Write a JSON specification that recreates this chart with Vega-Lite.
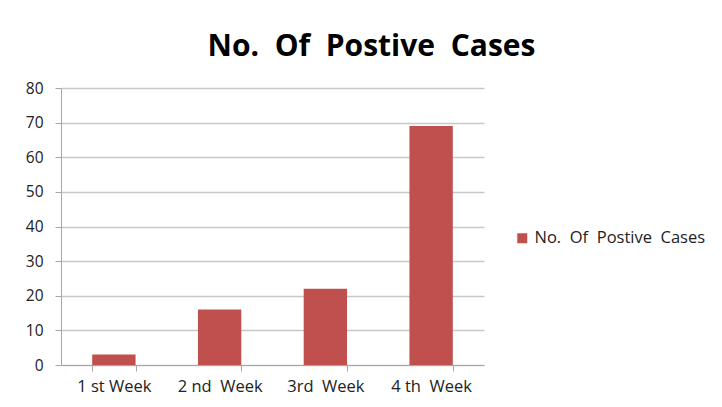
{
  "$schema": "https://vega.github.io/schema/vega-lite/v6.json",
  "autosize": {"type": "none"},
  "width": 423,
  "height": 277,
  "padding": {"left": 61, "top": 88, "right": 238, "bottom": 42},
  "background": "white",
  "title": {
    "text": "No.\u00a0\u00a0Of\u00a0\u00a0Postive\u00a0\u00a0Cases",
    "font": "Open Sans",
    "fontSize": 30,
    "fontWeight": "bold",
    "color": "#000000",
    "anchor": "middle",
    "dx": 99,
    "offset": 19
  },
  "data": {
    "values": [
      {"week": "1 st Week", "cases": 3, "series": "No.\u00a0\u00a0Of\u00a0\u00a0Postive\u00a0\u00a0Cases"},
      {"week": "2 nd\u00a0\u00a0Week", "cases": 16, "series": "No.\u00a0\u00a0Of\u00a0\u00a0Postive\u00a0\u00a0Cases"},
      {"week": "3rd\u00a0\u00a0Week", "cases": 22, "series": "No.\u00a0\u00a0Of\u00a0\u00a0Postive\u00a0\u00a0Cases"},
      {"week": "4 th\u00a0\u00a0Week", "cases": 69, "series": "No.\u00a0\u00a0Of\u00a0\u00a0Postive\u00a0\u00a0Cases"}
    ]
  },
  "mark": {"type": "bar"},
  "encoding": {
    "x": {
      "field": "week",
      "type": "nominal",
      "sort": null,
      "scale": {"paddingInner": 0.59, "paddingOuter": 0.295},
      "axis": {
        "title": null,
        "labelAngle": 0,
        "tickBand": "extent",
        "grid": false,
        "domainColor": "#A6A6A6",
        "tickColor": "#A6A6A6",
        "tickSize": 6,
        "labelFont": "Open Sans",
        "labelFontSize": 16.5,
        "labelColor": "#222222",
        "labelPadding": 7
      }
    },
    "y": {
      "field": "cases",
      "type": "quantitative",
      "scale": {"domain": [0, 80]},
      "axis": {
        "title": null,
        "values": [0, 10, 20, 30, 40, 50, 60, 70, 80],
        "gridColor": "#C8C8C8",
        "gridWidth": 1.5,
        "domainColor": "#A6A6A6",
        "tickColor": "#A6A6A6",
        "tickSize": 6,
        "labelFont": "Open Sans",
        "labelFontSize": 15.5,
        "labelColor": "#222222",
        "labelPadding": 12
      }
    },
    "color": {
      "field": "series",
      "type": "nominal",
      "scale": {"range": ["#C0504D"]},
      "legend": {
        "title": null,
        "orient": "none",
        "legendX": 453,
        "legendY": 142,
        "symbolType": "square",
        "symbolSize": 100,
        "symbolStrokeWidth": 0,
        "labelFont": "Open Sans",
        "labelFontSize": 16.5,
        "labelColor": "#222222",
        "labelOffset": 4,
        "labelLimit": 250
      }
    }
  },
  "config": {"view": {"stroke": null}}
}
